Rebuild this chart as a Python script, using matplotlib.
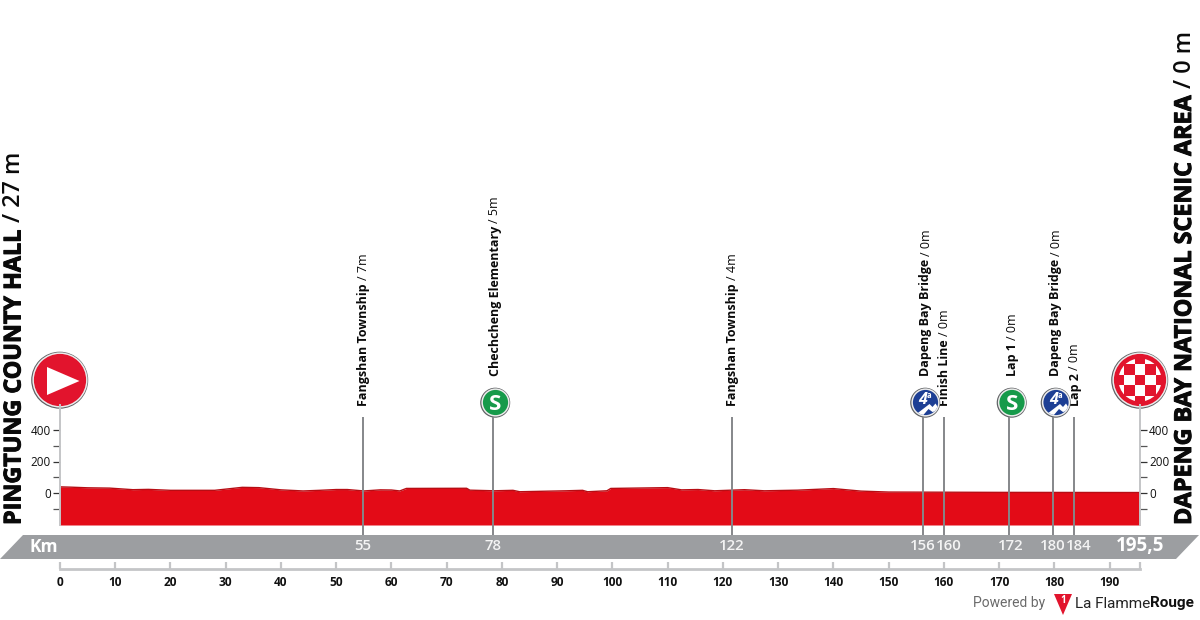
import matplotlib
matplotlib.use('Agg')
import matplotlib.pyplot as plt
import matplotlib.patheffects as pe
from matplotlib.patches import Circle, Polygon, Rectangle

# profile
km = [0, 2, 5, 9, 13.2, 16, 20, 28, 33, 36, 40, 44, 47, 50, 52, 55, 58, 60, 61.5, 62.7, 73.6, 74.2, 78.6, 82,
	83.2, 91.6, 94.6, 95.5, 99, 99.7, 110, 112.5, 115.5, 118.5, 123.9, 127.5, 133.5, 140, 145, 150, 170, 195.5]
elevation = [39, 37, 33, 31, 21, 23, 17, 17, 36, 34, 20, 13, 17, 22, 22, 13, 20, 19, 13, 29, 30, 18, 14, 17,
	8, 14, 17, 8, 14, 29, 34, 20, 22, 14, 21, 14, 18, 28, 12, 6, 4, 3]

# points along the route
point_km = [54.8, 78.4, 121.6, 156.2, 160, 171.7, 179.7, 183.5]
point_labels = ['55', '78', '122', '156', '160', '172', '180', '184']
point_names = ['Fangshan Township', 'Chechcheng Elementary', 'Fangshan Township', 'Dapeng Bay Bridge',
	'Finish Line', 'Lap 1', 'Dapeng Bay Bridge', 'Lap 2']
point_heights = ['/ 7m', '/ 5m', '/ 4m', '/ 0m', '/ 0m', '/ 0m', '/ 0m', '/ 0m']

dist_ticks = list(range(0, 200, 10))
elev_ticks = [0, 200, 400]
elev_minor = [-100, 100, 300]
route_end = 195.5

FONT = 'Open Sans'
RED = '#e30b17'
BAND = '#9c9ea1'
AXIS = '#c4c5c7'
LINE = '#85878a'

fig = plt.figure(figsize=(12, 6.2), dpi=100)

# pixel layer for the badges, band and titles
px = fig.add_axes([0, 0, 1, 1])
px.set_xlim(0, 1200)
px.set_ylim(620, 0)
px.axis('off')

# data layer: x 60..1140 px, y 405..569 px, zero at 493 px
M_PER_PX = 200 / 31.5
ax = fig.add_axes([60 / 1200, (620 - 569) / 620, 1080 / 1200, 164 / 620])
ax.patch.set_alpha(0)
ax.set_xlim(0, route_end)
ax.set_ylim(-76 * M_PER_PX, 88 * M_PER_PX)
floor = -32 * M_PER_PX

# grey km band
px.add_patch(Polygon([(23, 535), (1199, 535), (1176, 559), (0, 559)], closed=True, fc=BAND, ec='none', zorder=1))

ax.fill_between(km, elevation, floor, color=RED, lw=0, zorder=2)
ax.plot(km, elevation, color='#b70d14', lw=1.0, zorder=2.1, solid_capstyle='butt')

ax.vlines(point_km, -42 * M_PER_PX, 76 * M_PER_PX, color=LINE, lw=1.4, zorder=3)

for s in ['top']:
	ax.spines[s].set_visible(False)
for s in ['left', 'right']:
	ax.spines[s].set_bounds(floor, 88 * M_PER_PX)
	ax.spines[s].set_color(AXIS)
	ax.spines[s].set_linewidth(1.4)
ax.spines['bottom'].set_color(AXIS)
ax.spines['bottom'].set_linewidth(2)

ax.set_xticks(dist_ticks + [route_end])
ax.set_xticklabels([str(d) for d in dist_ticks] + [''], fontfamily=FONT, fontweight='bold', fontsize=8.6, color='#111111')
ax.tick_params(axis='x', direction='in', length=5, width=1.6, color=AXIS, pad=5)

ax.set_yticks(elev_ticks)
ax.set_yticks(elev_minor, minor=True)
ax.set_yticklabels([str(e) for e in elev_ticks], fontfamily=FONT, fontsize=8.4, color='#111111')
ax.tick_params(axis='y', which='major', left=True, right=True, labelleft=True, labelright=True,
	length=5, width=0.9, color='#333333', pad=1.5)
ax.tick_params(axis='y', which='minor', left=True, right=True, length=5, width=0.9, color='#555555')

# km numbers in the band
label_y = -53.5 * M_PER_PX
label_shift = [0, 0, 0, 0, 0.8, 0.4, 0, 0.9]
for k, lab, sh in zip(point_km, point_labels, label_shift):
	ax.text(k + sh, label_y, lab, ha='center', va='center', color='#f4f4f4', fontfamily=FONT, fontweight='semibold', fontsize=10.8, zorder=4)
ax.text(route_end, label_y, '195,5', ha='center', va='center', color='white', fontfamily=FONT,
	fontweight='bold', fontsize=13.5, zorder=4)
px.text(44, 546.5, 'Km', ha='center', va='center', color='white', fontfamily=FONT, fontweight='bold', fontsize=12.5, zorder=4)

fig.canvas.draw()
renderer = fig.canvas.get_renderer()

def two_part_label(x, y, first, second, size, gap, weight='bold', second_weight='normal', stroke=0, zorder=5):
	# bold name then regular height, running up the page
	t = px.text(x, y, first, rotation=90, ha='center', va='bottom', fontfamily=FONT, fontweight=weight,
		fontsize=size, color='#0a0a0a', zorder=zorder)
	if stroke:
		t.set_path_effects([pe.withStroke(linewidth=stroke, foreground='#0a0a0a')])
	h = t.get_window_extent(renderer).height
	px.text(x, y - h - gap, second, rotation=90, ha='center', va='bottom', fontfamily=FONT, fontweight=second_weight,
		fontsize=size, color='#0a0a0a', zorder=zorder)

label_x = [363.5, 495, 732.5, 926, 944.5, 1012.5, 1056, 1075]
label_bottom = [406.5, 376.5, 406.5, 376.5, 406.5, 376.5, 376.5, 406.5]
for x, y, n, h in zip(label_x, label_bottom, point_names, point_heights):
	two_part_label(x, y, n, h, 9.0, 3.5)

two_part_label(14.5, 525, 'PINGTUNG COUNTY HALL', '/ 27 m', 16.8, 6, second_weight='semibold', stroke=0.7)
two_part_label(1185, 525, 'DAPENG BAY NATIONAL SCENIC AREA', '/ 0 m', 16.8, 6, second_weight='semibold', stroke=0.7)

def ring(x, y, r, fill, zorder=6):
	px.add_patch(Circle((x - 0.3, y + 0.2), r, fc='#5f6164', ec='none', zorder=zorder))
	px.add_patch(Circle((x, y), r - 0.9, fc='#ececec', ec='none', zorder=zorder + 0.1))
	return px.add_patch(Circle((x, y), r - 2.4, fc=fill, ec='none', zorder=zorder + 0.2))

# start badge
ring(60, 380, 28.5, '#e2142d')
px.add_patch(Polygon([(47, 367), (47, 395), (79.5, 381)], closed=True, fc='white', ec='none', zorder=7))

# finish badge
ring(1140, 380, 28.5, '#e2142d')
field = px.add_patch(Circle((1140, 380), 21.5, fc='none', ec='none', zorder=6.5))
size = 10.4
for i in range(-3, 4):
	for j in range(-3, 4):
		if (i + j) % 2:
			sq = Rectangle((1140 + (i - 0.5) * size, 380 + (j - 0.5) * size), size, size, fc='white', ec='none', zorder=7)
			px.add_patch(sq)
			sq.set_clip_path(field)

# sprint badges
for x in [495.5, 1012]:
	ring(x, 402.5, 15, '#169a4a')
	px.text(x, 402.5, 'S', ha='center', va='center_baseline', color='white', fontfamily=FONT, fontweight='bold',
		fontsize=16, zorder=7)

# climb badges
for x in [925.5, 1056]:
	disc = ring(x, 402.5, 15, '#1d3f94')
	hill = Polygon([(x - 9, 414), (x + 4, 404), (x + 7, 407), (x + 10, 403.5), (x + 14, 410), (x + 7, 412),
		(x + 3, 409), (x - 3, 416)], closed=True, fc='white', ec='none', zorder=7)
	px.add_patch(hill)
	hill.set_clip_path(disc)
	px.text(x - 2.5, 400, '4', ha='center', va='center', color='white', fontfamily=FONT, fontweight='bold',
		style='italic', fontsize=11.5, zorder=7.1)
	px.text(x + 3.5, 396, 'a', ha='center', va='center', color='white', fontfamily=FONT, fontweight='bold',
		fontsize=5.5, zorder=7.1)

# footer logo
px.text(973, 603.5, 'Powered by', ha='left', va='center', color='#6a6a6a', fontfamily='Roboto', fontsize=10)
px.add_patch(Polygon([(1054, 594), (1072, 594), (1063, 615)], closed=True, fc='#e2142d', ec='none', zorder=3))
px.text(1063, 600.5, '1', ha='center', va='center', color='white', fontfamily=FONT, fontweight='bold', fontsize=7, zorder=4)
t = px.text(1075, 603.5, 'La Flamme', ha='left', va='center', color='#222222', fontfamily='Roboto', fontsize=11)
w = t.get_window_extent(renderer).width
px.text(1075 + w, 603.5, 'Rouge', ha='left', va='center', color='#111111', fontfamily='Roboto', fontweight='bold', fontsize=11)

fig.savefig('out.png', dpi=100)
